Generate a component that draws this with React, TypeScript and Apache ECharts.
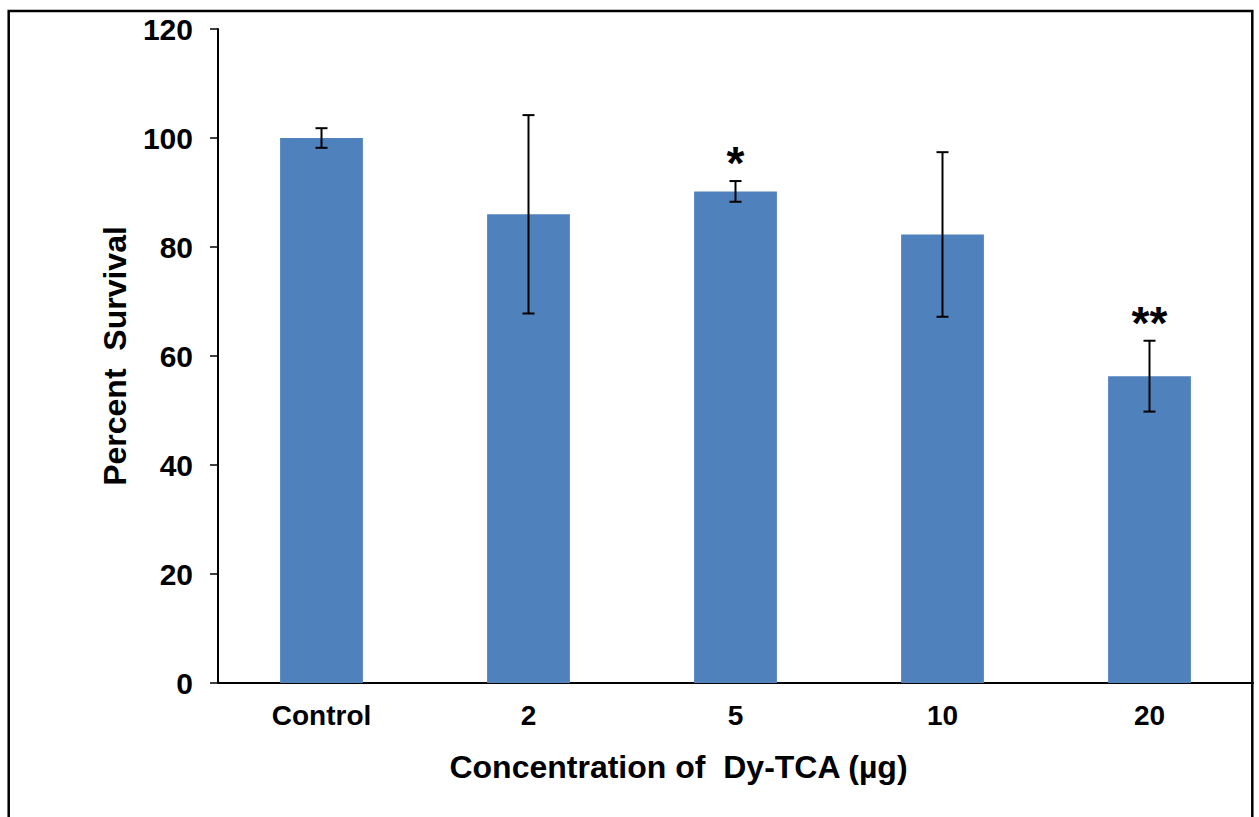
import React, { useEffect, useRef } from "react";
import * as echarts from "echarts";

// Cell survival at each Dy-TCA dose (mean ± error), with significance marks
const categories = ["Control", "2", "5", "10", "20"];
const survival = [100, 86.0, 90.2, 82.3, 56.3];
const errors = [1.8, 18.2, 1.9, 15.1, 6.5];
const significance = ["", "", "*", "", "**"];

const FONT = "'Liberation Sans', Arial, Helvetica, sans-serif";

export default function App() {
  const ref = useRef<HTMLDivElement>(null);

  useEffect(() => {
    if (!ref.current) return;
    const chart = echarts.init(ref.current, null, { renderer: "svg" });

    const errorData = survival.map((v, i) => [i, v - errors[i], v + errors[i]]);

    chart.setOption({
      animation: false,
      backgroundColor: "#ffffff",
      grid: { left: 218, right: 6, top: 29, bottom: 134, containLabel: false },
      graphic: [
        {
          type: "rect",
          shape: { x: 8.7, y: 11, width: 1243.6, height: 900 },
          style: { fill: "none", stroke: "#000", lineWidth: 2.5 },
          silent: true,
          z: 10,
        },
      ],
      xAxis: {
        type: "category",
        data: categories,
        axisLine: { show: true, lineStyle: { color: "#000", width: 2 } },
        axisTick: { show: false },
        axisLabel: {
          color: "#000",
          fontFamily: FONT,
          fontWeight: "bold",
          fontSize: 28,
          margin: 18,
        },
        name: "Concentration of  Dy-TCA (µg)",
        nameLocation: "middle",
        nameGap: 68,
        nameTextStyle: {
          color: "#000",
          fontFamily: FONT,
          fontWeight: "bold",
          fontSize: 32,
          padding: [0, 114, 0, 0],
        },
      },
      yAxis: {
        type: "value",
        min: 0,
        max: 120,
        interval: 20,
        axisLine: { show: true, lineStyle: { color: "#000", width: 2 } },
        axisTick: { show: true, length: 8, lineStyle: { color: "#000", width: 1.5 } },
        splitLine: { show: false },
        axisLabel: {
          color: "#000",
          fontFamily: FONT,
          fontWeight: "bold",
          fontSize: 30,
          margin: 25,
        },
        name: "Percent  Survival",
        nameLocation: "middle",
        nameGap: 87,
        nameRotate: 90,
        nameTextStyle: {
          color: "#000",
          fontFamily: FONT,
          fontWeight: "bold",
          fontSize: 32,
        },
      },
      series: [
        {
          type: "bar",
          data: survival,
          barWidth: "40%",
          itemStyle: { color: "#4F81BD" },
          z: 2,
        },
        {
          type: "custom",
          data: errorData,
          z: 3,
          renderItem: (params: any, api: any) => {
            const i = api.value(0);
            const low = api.coord([i, api.value(1)]);
            const high = api.coord([i, api.value(2)]);
            const cap = 6;
            const ls = { stroke: "#000", lineWidth: 2 };
            const children: any[] = [
              { type: "line", shape: { x1: high[0], y1: high[1], x2: low[0], y2: low[1] }, style: ls },
              { type: "line", shape: { x1: high[0] - cap, y1: high[1], x2: high[0] + cap, y2: high[1] }, style: ls },
              { type: "line", shape: { x1: low[0] - cap, y1: low[1], x2: low[0] + cap, y2: low[1] }, style: ls },
            ];
            const mark = significance[params.dataIndex];
            if (mark) {
              children.push({
                type: "text",
                x: high[0],
                y: high[1] + 5,
                style: {
                  text: mark,
                  fill: "#000",
                  font: `bold 46px ${FONT}`,
                  textAlign: "center",
                  textVerticalAlign: "bottom",
                },
              });
            }
            return { type: "group", children };
          },
        },
      ],
    });

    return () => chart.dispose();
  }, []);

  return (
    <div
      ref={ref}
      style={{ position: "absolute", left: 0, top: 0, width: 1259, height: 817 }}
    />
  );
}
